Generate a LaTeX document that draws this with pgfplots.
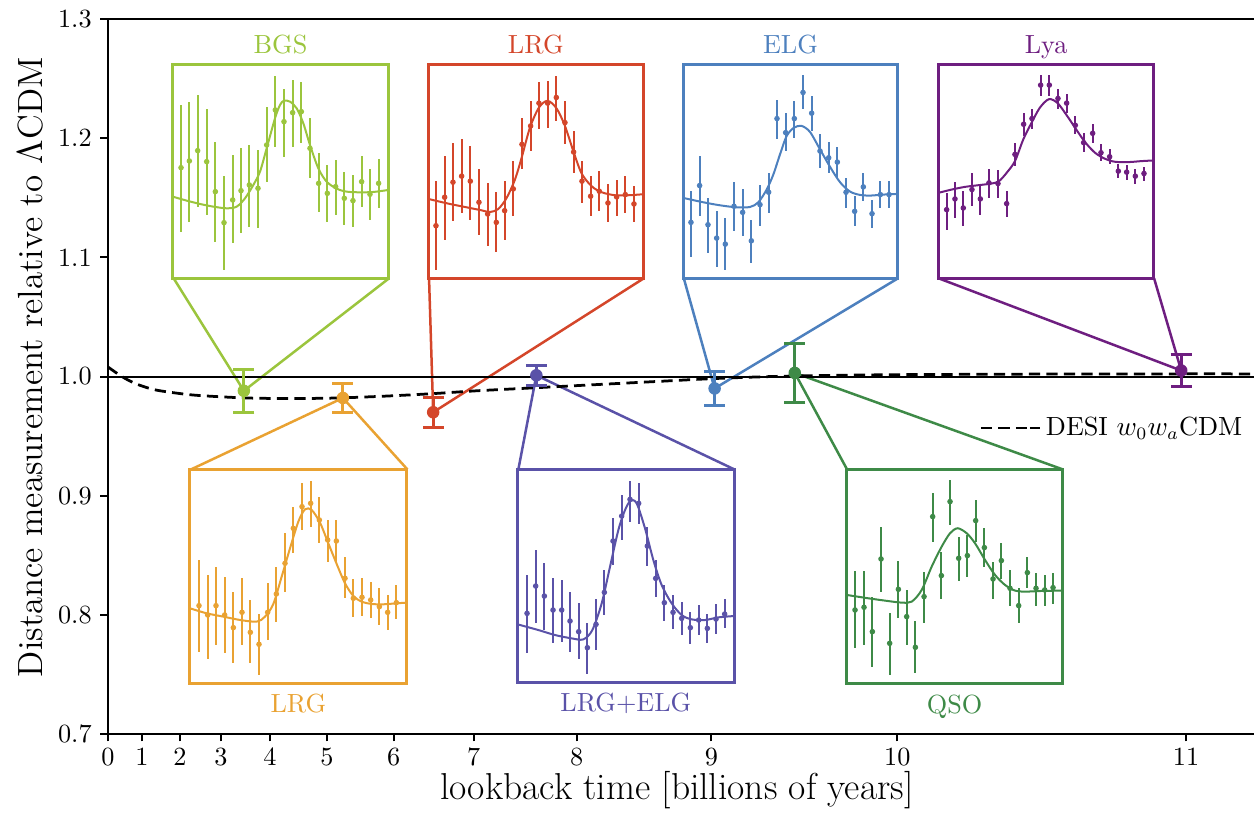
\documentclass[border=0pt]{standalone}
\usepackage{fontspec}
\usepackage{pgfplots}
\usepackage{pgfplotstable}
\pgfplotsset{compat=1.18}

\definecolor{cbgs}{HTML}{9BC53D}
\definecolor{clrgr}{HTML}{D4462A}
\definecolor{celg}{HTML}{4D80BE}
\definecolor{clya}{HTML}{6E1E80}
\definecolor{clrgo}{HTML}{E9A232}
\definecolor{clrgelg}{HTML}{5A52A8}
\definecolor{cqso}{HTML}{3E8A47}

% ---------- inset data: x, y(centre), t(bar top), b(bar bottom) in box units ----------
\pgfplotstableread{
x y t b
63 413 225 605
88 393 215 575
113 362 195 530
140 395 238 555
166 485 335 635
192 578 438 720
218 510 375 640
243 482 355 610
268 465 345 590
294 475 360 595
320 345 232 455
346 240 138 350
372 275 178 380
398 248 150 350
424 245 155 340
450 355 265 445
476 460 370 545
502 490 405 575
527 470 390 555
553 505 425 585
579 512 435 590
605 455 378 530
630 493 418 570
656 460 388 535
}\bgsdata
\pgfplotstableread{
x y
38 500
80 512
120 522
160 530
200 535
230 530
255 505
280 465
300 425
320 355
345 265
360 225
372 212
390 215
410 235
430 280
450 345
475 415
500 455
530 476
560 485
600 487
640 486
685 480
}\bgscurve

\pgfplotstableread{
x y t b
63 588 455 720
89 503 380 630
114 458 340 575
140 440 330 550
166 455 350 570
192 518 418 615
218 553 460 650
244 578 488 665
269 543 455 630
295 478 395 560
321 345 265 420
347 290 215 365
372 222 158 300
398 222 155 295
424 205 140 275
450 280 215 345
476 368 305 430
501 455 395 520
527 500 440 560
553 485 425 545
579 520 462 578
605 502 450 558
631 495 440 550
657 523 468 578
}\lrgrdata
\pgfplotstableread{
x y
40 508
100 522
150 532
200 542
225 547
250 538
275 505
300 450
320 385
345 295
372 235
398 215
425 238
450 290
476 368
500 432
530 470
560 488
600 497
640 497
685 494
}\lrgrcurve

\pgfplotstableread{
x y t b
63 578 485 680
89 468 380 560
114 585 505 670
140 625 545 710
166 643 565 720
192 530 458 605
218 548 478 620
244 633 570 700
270 525 465 588
296 488 430 550
321 268 212 330
347 310 252 365
373 268 215 325
399 190 138 240
425 252 202 305
450 365 315 415
476 385 338 430
502 398 352 445
528 488 445 535
554 545 500 590
580 472 430 515
606 552 512 595
631 495 455 535
657 495 455 535
}\elgdata
\pgfplotstableread{
x y
40 505
100 518
150 527
200 533
240 532
265 518
290 480
310 435
330 375
350 320
372 295
395 290
420 308
450 360
480 412
510 458
540 486
570 496
600 498
640 495
683 493
}\elgcurve

\pgfplotstableread{
x y t b
65 540 490 600
90 508 458 565
115 535 485 590
141 480 432 530
166 508 462 555
192 460 418 505
219 462 422 505
245 522 485 562
270 375 342 410
296 285 250 320
321 268 238 298
347 168 138 200
373 168 138 200
399 208 180 238
425 222 195 250
451 288 260 315
476 340 310 368
503 312 285 340
528 370 345 395
554 382 360 405
580 425 405 445
605 428 408 450
631 440 418 462
657 432 412 455
}\lyadata
\pgfplotstableread{
x y
40 490
80 480
120 472
160 467
200 462
222 455
245 430
270 395
295 330
320 280
345 235
372 210
398 222
425 258
450 295
480 338
510 370
540 388
570 397
610 398
650 395
687 393
}\lyacurve

\pgfplotstableread{
x y t b
57 437 300 575
83 465 345 598
108 437 320 555
134 465 350 580
160 503 395 610
186 457 355 555
211 517 420 610
237 553 462 645
263 457 368 540
289 402 320 485
315 310 218 395
340 205 140 280
366 140 68 210
392 130 62 200
418 180 112 248
443 240 180 305
469 243 180 305
495 355 292 415
520 415 358 470
546 412 355 468
572 420 365 475
598 440 385 495
623 457 405 510
649 428 375 478
}\lrgodata
\pgfplotstableread{
x y
30 445
80 460
130 470
180 480
230 485
255 470
280 432
305 350
330 265
355 185
375 148
395 150
420 188
445 250
470 312
495 370
520 408
545 425
575 432
610 433
650 430
680 428
}\lrgocurve

\pgfplotstableread{
x y t b
66 460 345 578
92 378 270 490
118 408 308 510
144 450 355 548
170 450 360 545
195 483 395 575
221 515 430 598
247 563 488 642
273 493 418 570
298 397 330 465
324 243 175 315
350 168 105 240
375 118 62 185
401 130 68 192
427 258 200 318
452 355 300 410
478 428 375 482
504 457 405 508
530 475 425 525
556 503 455 552
581 480 435 525
607 505 462 550
633 477 432 522
659 462 418 505
}\lrgelgdata
\pgfplotstableread{
x y
38 493
100 510
150 525
200 535
235 538
262 510
290 430
315 320
340 210
360 150
377 122
395 130
420 205
445 300
470 375
500 430
530 465
560 478
600 480
640 472
687 468
}\lrgelgcurve

\pgfplotstableread{
x y t b
60 450 333 565
87 442 333 555
112 515 410 620
138 297 200 395
164 550 460 645
190 388 302 475
215 470 390 555
241 562 482 640
267 410 335 490
293 170 100 245
319 347 275 418
345 125 60 195
371 295 230 362
397 287 225 350
422 182 120 245
448 263 205 320
474 357 305 418
499 302 250 358
525 385 330 438
551 437 385 490
577 338 290 385
603 385 340 437
629 390 345 438
654 383 338 432
}\qsodata
\pgfplotstableread{
x y
35 405
100 415
150 422
200 428
230 425
260 390
290 320
320 260
345 220
368 205
395 220
420 250
450 300
480 345
510 375
540 392
570 395
620 393
683 392
}\qsocurve

\pgfplotsset{
  inset/.style={scale only axis, anchor=south west, xtick=\empty, ytick=\empty,
    y dir=reverse, axis line style={draw=#1, line width=1.2pt}},
  toptitle/.style={every axis title/.style={at={(0.5,1)}, anchor=base, yshift=4.6pt,
    inner sep=0pt, text=#1, font=\fontsize{10.5}{12}\selectfont}},
  bottitle/.style={every axis x label/.style={at={(axis description cs:0.5,0)}, anchor=base,
    yshift=-11.6pt, inner sep=0pt, text=#1, font=\fontsize{10.5}{12}\selectfont}},
  ipts/.style={color=#1, only marks, mark=*, mark size=0.9pt,
    error bars/y dir=both, error bars/y explicit, error bars/error mark=none,
    error bars/error bar style={line width=0.9pt, color=#1}},
  icurve/.style={color=#1, line width=0.8pt, smooth, no markers},
  mainpt/.style={color=#1, only marks, mark=*, mark size=2.3pt,
    error bars/y dir=both, error bars/y explicit,
    error bars/error bar style={line width=1.2pt, color=#1},
    error bars/error mark options={rotate=90, mark size=4.2pt, line width=1.2pt, color=#1}},
  conn/.style={color=#1, line width=1pt, no markers, forget plot},
}

\newcommand{\insetplots}[3]{%
  \addplot[ipts=#1] table[x=x, y=y, y error plus expr=\thisrow{b}-\thisrow{y},
      y error minus expr=\thisrow{y}-\thisrow{t}] {#2};
  \addplot[icurve=#1] table[x=x, y=y] {#3};
}

\begin{document}
\begin{tikzpicture}
\useasboundingbox (-43.2pt,-33.2pt) rectangle (458.4pt,293.6pt);

\begin{axis}[
  name=main, at={(0pt,0pt)}, anchor=south west, scale only axis,
  width=458.4pt, height=286pt,
  xmin=0, xmax=2.488, ymin=0.7, ymax=1.3,
  axis x line*=box, axis y line*=left,
  xtick pos=left, ytick pos=left,
  tick align=outside, major tick length=3pt,
  every tick/.style={black, line width=0.8pt},
  axis line style={line width=0.8pt, black},
  xtick={0,0.0738,0.1562,0.2451,0.3514,0.4751,0.6204,0.7939,1.0174,1.3102,1.7137,2.3406},
  xticklabels={0,1,2,3,4,5,6,7,8,9,10,11},
  ytick={0.7,0.8,0.9,1.0,1.1,1.2,1.3},
  yticklabels={0.7,0.8,0.9,1.0,1.1,1.2,1.3},
  tick label style={font=\fontsize{10.5}{12}\selectfont},
  xticklabel style={yshift=1pt},
  xlabel={lookback time [billions of years]},
  xlabel style={at={(axis description cs:0.4965,0)}, anchor=center, yshift=-22.6pt,
    font=\fontsize{15}{18}\selectfont},
  ylabel={Distance measurement relative to $\Lambda$CDM},
  ylabel style={at={(axis description cs:-0.068,0.513)}, anchor=center,
    font=\fontsize{14}{17}\selectfont},
  legend style={at={(0.760,0.428)}, anchor=west, draw=none, fill=none, inner sep=0pt,
    font=\fontsize{10.5}{12}\selectfont},
  legend cell align=left,
  legend image code/.code={\draw[#1] (0pt,0pt) -- (19.6pt,0pt); \path (19.6pt,0pt) -- (23.5pt,0pt);},
]
% connectors
\addplot[conn=cbgs] coordinates {(0.1425,1.0824) (0.295,0.988) (0.6102,1.0824)};
\addplot[conn=clrgr] coordinates {(0.697,1.0824) (0.706,0.970) (1.1633,1.0824)};
\addplot[conn=celg] coordinates {(1.2501,1.0824) (1.317,0.990) (1.7152,1.0824)};
\addplot[conn=clya] coordinates {(1.8033,1.0824) (2.330,1.005) (2.2711,1.0824)};
\addplot[conn=clrgo] coordinates {(0.180,0.922) (0.510,0.982) (0.6501,0.922)};
\addplot[conn=clrgelg] coordinates {(0.8909,0.922) (0.930,1.001) (1.3601,0.922)};
\addplot[conn=cqso] coordinates {(1.6046,0.922) (1.491,1.003) (2.0731,0.922)};
% reference line
\addplot[black, line width=0.8pt, no markers, forget plot] coordinates {(0,1) (2.488,1)};
% DESI w0waCDM
\addplot[black, line width=1.1pt, dash pattern=on 4.5pt off 2.5pt, smooth, no markers] coordinates {
(0,1.008) (0.03,1.0) (0.06,0.994) (0.1,0.989) (0.15,0.986) (0.2,0.984) (0.3,0.982)
(0.4,0.9815) (0.5,0.982) (0.6,0.9835) (0.7,0.9855) (0.8,0.988) (0.9,0.990) (1.0,0.992)
(1.1,0.994) (1.2,0.996) (1.3,0.998) (1.4,0.9995) (1.5,1.0005) (1.7,1.0015) (2.0,1.002)
(2.3,1.0022) (2.488,1.0022)};
\addlegendentry{DESI $w_0w_a$CDM}
% measurements
\addplot[forget plot, mainpt=cbgs] coordinates {(0.295,0.988) +- (0,0.018)};
\addplot[forget plot, mainpt=clrgo] coordinates {(0.510,0.982) +- (0,0.012)};
\addplot[forget plot, mainpt=clrgr] coordinates {(0.706,0.970) +- (0,0.0125)};
\addplot[forget plot, mainpt=clrgelg] coordinates {(0.930,1.001) +- (0,0.0085)};
\addplot[forget plot, mainpt=celg] coordinates {(1.317,0.990) +- (0,0.0145)};
\addplot[forget plot, mainpt=cqso] coordinates {(1.491,1.003) +- (0,0.025)};
\addplot[forget plot, mainpt=clya] coordinates {(2.330,1.005) +- (0,0.0135)};
\end{axis}

% ---- top insets ----
\begin{axis}[inset=cbgs, toptitle=cbgs, at={(25.88pt,182.28pt)}, width=86.24pt, height=85.32pt,
  xmin=38, xmax=685, ymin=105, ymax=745, title={BGS}]
\insetplots{cbgs}{\bgsdata}{\bgscurve}
\end{axis}
\begin{axis}[inset=clrgr, toptitle=clrgr, at={(128.12pt,182.28pt)}, width=86pt, height=85.32pt,
  xmin=40, xmax=685, ymin=108, ymax=745, title={LRG}]
\insetplots{clrgr}{\lrgrdata}{\lrgrcurve}
\end{axis}
\begin{axis}[inset=celg, toptitle=celg, at={(230.12pt,182.28pt)}, width=85.76pt, height=85.32pt,
  xmin=40, xmax=683, ymin=108, ymax=745, title={ELG}]
\insetplots{celg}{\elgdata}{\elgcurve}
\end{axis}
\begin{axis}[inset=clya, toptitle=clya, at={(332.12pt,182.28pt)}, width=86.28pt, height=85.32pt,
  xmin=40, xmax=687, ymin=108, ymax=745, title={Lya}]
\insetplots{clya}{\lyadata}{\lyacurve}
\end{axis}

% ---- bottom insets ----
\begin{axis}[inset=clrgo, bottitle=clrgo, at={(32.8pt,20.28pt)}, width=86.68pt, height=85.32pt,
  xmin=30, xmax=680, ymin=30, ymax=670, xlabel={LRG}]
\insetplots{clrgo}{\lrgodata}{\lrgocurve}
\end{axis}
\begin{axis}[inset=clrgelg, bottitle=clrgelg, at={(163.88pt,20.52pt)}, width=86.52pt, height=85.32pt,
  xmin=38, xmax=687, ymin=28, ymax=668, xlabel={LRG+ELG}]
\insetplots{clrgelg}{\lrgelgdata}{\lrgelgcurve}
\end{axis}
\begin{axis}[inset=cqso, bottitle=cqso, at={(295.48pt,20pt)}, width=86.4pt, height=85.9pt,
  xmin=35, xmax=683, ymin=28, ymax=672, xlabel={QSO}]
\insetplots{cqso}{\qsodata}{\qsocurve}
\end{axis}
\end{tikzpicture}
\end{document}
